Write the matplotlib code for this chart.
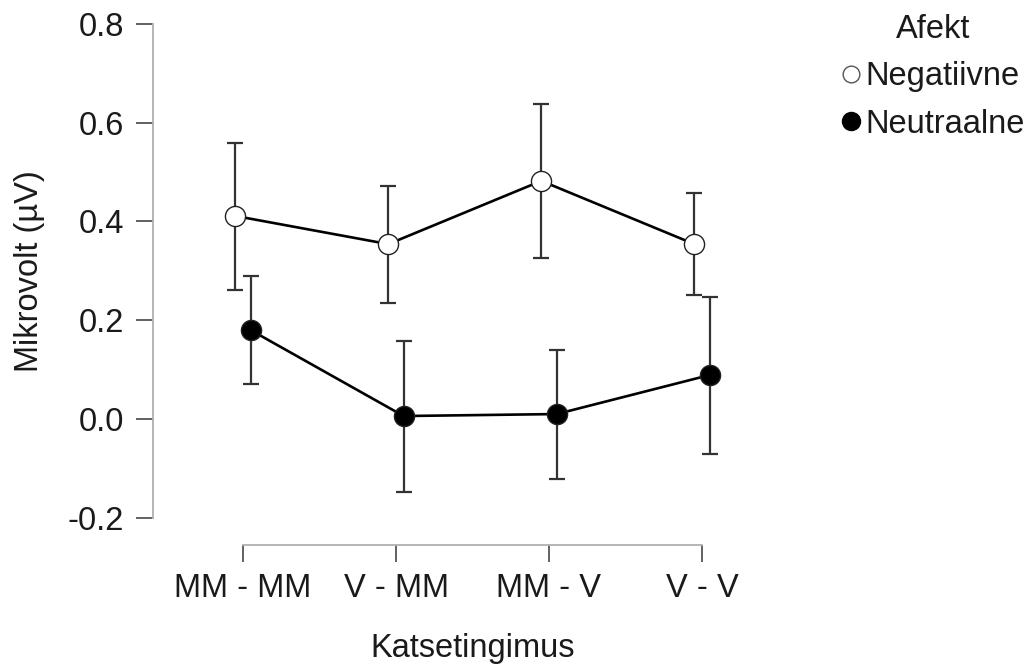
import matplotlib
matplotlib.use("Agg")
import matplotlib.pyplot as plt
from matplotlib.lines import Line2D
import numpy as np

categories = ["MM - MM", "V - MM", "MM - V", "V - V"]
neg_mean = [0.411, 0.354, 0.482, 0.354]
neg_low = [0.261, 0.235, 0.326, 0.251]
neg_high = [0.559, 0.472, 0.638, 0.457]
neu_mean = [0.180, 0.006, 0.010, 0.089]
neu_low = [0.071, -0.148, -0.121, -0.071]
neu_high = [0.289, 0.158, 0.140, 0.247]
yticks = [-0.2, 0.0, 0.2, 0.4, 0.6, 0.8]
ytick_labels = ["-0.2", "0.0", "0.2", "0.4", "0.6", "0.8"]

plt.rcParams['font.family'] = ['Liberation Sans', 'DejaVu Sans']
FS = 23.5

fig = plt.figure(figsize=(10.32, 6.66), dpi=100)
ax = fig.add_axes([153/1032, (666-545)/666, (730-153)/1032, (545-20)/666])

x = np.arange(len(categories))
off = 0.05

def draw(xs, mean, low, high, face, label):
    mean = np.array(mean)
    yerr = np.vstack([mean - np.array(low), np.array(high) - mean])
    ax.errorbar(xs, mean, yerr=yerr, fmt='none', ecolor='#333333', elinewidth=1.6,
                capsize=5.5, capthick=1.6, zorder=2)
    ax.plot(xs, mean, color='black', lw=1.9, zorder=3)
    ax.plot(xs, mean, ls='none', marker='o', markersize=14.5, markerfacecolor=face,
            markeredgecolor='#222222', markeredgewidth=1.0, zorder=4, label=label)

draw(x - off, neg_mean, neg_low, neg_high, 'white', 'Negatiivne')
draw(x + off, neu_mean, neu_low, neu_high, 'black', 'Neutraalne')

ax.set_xlim((153-243)/153, (730-243)/153)
ax.set_ylim((419-545)/494, (419-20)/494)

for s in ['top', 'right']:
    ax.spines[s].set_visible(False)
ax.spines['left'].set_bounds(-0.2, 0.8)
ax.spines['bottom'].set_bounds(0, 3)
for s in ['left', 'bottom']:
    ax.spines[s].set_color('#b0b0b0')
    ax.spines[s].set_linewidth(1.3)

ax.set_xticks(x)
ax.set_xticklabels(categories)
ax.set_yticks(yticks)
ax.set_yticklabels(ytick_labels)
ax.tick_params(axis='both', direction='out', length=12, width=1.3, color='#555555',
               labelsize=FS, labelcolor='#1a1a1a')
ax.tick_params(axis='y', pad=9)
ax.tick_params(axis='x', pad=8)

ax.set_xlabel("Katsetingimus", fontsize=FS, color='#1a1a1a')
ax.set_ylabel("Mikrovolt (µV)", fontsize=FS, color='#1a1a1a')
ax.xaxis.label.set_va('center')
ax.yaxis.label.set_va('center')
ax.xaxis.set_label_coords((472.5-153)/577, -(648-545)/525)
ax.yaxis.set_label_coords((30-153)/577, (545-271)/525)

handles = [
    Line2D([], [], ls='none', marker='o', markersize=12, markerfacecolor='white',
           markeredgecolor='#555555', markeredgewidth=1.0),
    Line2D([], [], ls='none', marker='o', markersize=13, markerfacecolor='black',
           markeredgecolor='black', markeredgewidth=1.0),
]
leg = fig.legend(handles, ["Negatiivne", "Neutraalne"], title="Afekt",
                 loc='upper left', bbox_to_anchor=(841/1032, 1 - 14/666),
                 frameon=False, fontsize=FS, title_fontsize=FS,
                 handletextpad=0.15, labelspacing=0.5, handlelength=0.6,
                 borderpad=0.0, borderaxespad=0.0)
for t in leg.get_texts():
    t.set_color('#1a1a1a')
leg.get_title().set_color('#1a1a1a')

fig.savefig("out.png", dpi=100)
